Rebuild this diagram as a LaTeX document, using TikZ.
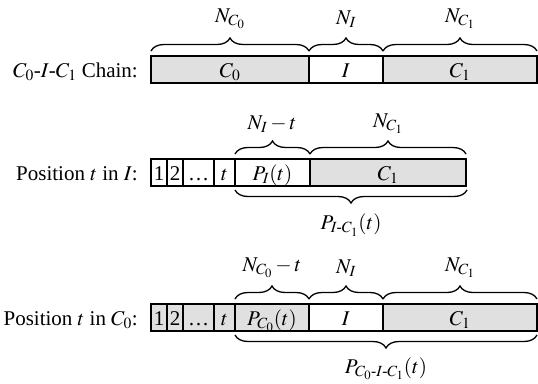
\documentclass[tikz,border=0pt]{standalone}
\usepackage{amsmath}
\usepackage{mathptmx}
\usepackage[no-math]{fontspec}
\setmainfont{Liberation Serif}
\usetikzlibrary{decorations.pathreplacing}

\begin{document}
\begin{tikzpicture}[x=1pt,y=-1pt,
		font=\fontsize{21}{25}\selectfont,
		cell/.style={draw=black,line width=1.6pt},
		shaded/.style={cell,fill=black!12},
		curly/.style={decorate,decoration={brace,amplitude=13pt},line width=1.3pt},
		celltext/.style={anchor=base,inner sep=0pt},
		rowlbl/.style={anchor=base east,inner sep=0pt}]
	\useasboundingbox (0,0) rectangle (538,383);
	
	% chain
	\draw[shaded](151,56) rectangle (309,83);
	\draw[cell](309,56) rectangle (383,83);
	\draw[shaded](383,56) rectangle (537,83);
	\node (chainlbl) at(138,77)[rowlbl]{$C_0$-$I$-$C_1$ Chain:};
	\node (chainC0) at(230,77.5)[celltext]{$C_0$};
	\node (chainI) at(346,77.5)[celltext]{$I$};
	\node (chainC1) at(460,77.5)[celltext]{$C_1$};
	
	\draw[curly](151,51)--(309,51);
	\draw[curly](309,51)--(383,51);
	\draw[curly](383,51)--(537,51);
	\node (nc0a) at(230,19){$N_{C_0}$};
	\node (nia) at(346,19){$N_I$};
	\node (nc1a) at(460,19){$N_{C_1}$};
	
	% position t in I
	\draw[cell](151,159) rectangle (167,186);
	\draw[cell](167,159) rectangle (183,186);
	\draw[cell](183,159) rectangle (214,186);
	\draw[cell](214,159) rectangle (235,186);
	\draw[cell](235,159) rectangle (310,186);
	\draw[shaded](310,159) rectangle (466,186);
	\node (poslblI) at(138,180)[rowlbl]{Position $t$ in $I$:};
	\node (oneI) at(159,180.5)[celltext]{1};
	\node (twoI) at(175,180.5)[celltext]{2};
	\node (dotsI) at(198.5,180.5)[celltext]{\dots};
	\node (tI) at(224.5,180.5)[celltext]{$t$};
	\node (PI) at(272.5,180.5)[celltext]{$P_I(t)$};
	\node (C1I) at(388,180.5)[celltext]{$C_1$};
	
	\draw[curly](235,154)--(310,154);
	\draw[curly](310,154)--(466,154);
	\draw[curly](467,190)--(235,190);
	\node (nitb) at(272,124){$N_I-t$};
	\node (nc1b) at(388,124){$N_{C_1}$};
	\node (PIC1) at(351,225){$P_{I\text{-}C_1}(t)$};
	
	% position t in C0
	\draw[shaded](151,304) rectangle (167,331);
	\draw[shaded](167,304) rectangle (183,331);
	\draw[shaded](183,304) rectangle (214,331);
	\draw[shaded](214,304) rectangle (235,331);
	\draw[shaded](235,304) rectangle (309,331);
	\draw[cell](309,304) rectangle (383,331);
	\draw[shaded](383,304) rectangle (537,331);
	\node (poslblC0) at(138,325)[rowlbl]{Position $t$ in $C_0$:};
	\node (oneC) at(159,325.5)[celltext]{1};
	\node (twoC) at(175,325.5)[celltext]{2};
	\node (dotsC) at(198.5,325.5)[celltext]{\dots};
	\node (tC) at(224.5,325.5)[celltext]{$t$};
	\node (PC0) at(272,325.5)[celltext]{$P_{C_0}(t)$};
	\node (IC) at(346,325.5)[celltext]{$I$};
	\node (C1C) at(460,325.5)[celltext]{$C_1$};
	
	\draw[curly](235,299)--(309,299);
	\draw[curly](309,299)--(383,299);
	\draw[curly](383,299)--(537,299);
	\draw[curly](537,335)--(235,335);
	\node (nc0tc) at(272,268){$N_{C_0}-t$};
	\node (nic) at(346,268){$N_I$};
	\node (nc1c) at(460,268){$N_{C_1}$};
	\node (PC0IC1) at(386,369){$P_{C_0\text{-}I\text{-}C_1}(t)$};
	
\end{tikzpicture}
\end{document}
